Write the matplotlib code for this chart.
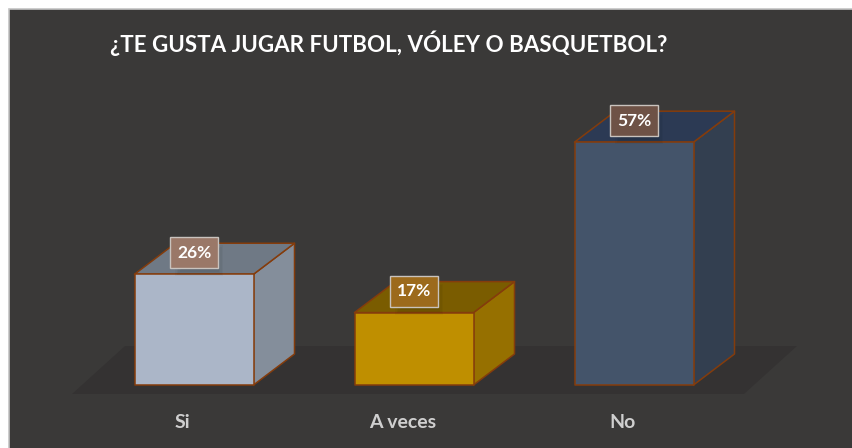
import matplotlib
matplotlib.use("Agg")
import matplotlib.pyplot as plt
from matplotlib.patches import Polygon, Rectangle

categories = ["Si", "A veces", "No"]
values = [26, 17, 57]
title = "¿TE GUSTA JUGAR FUTBOL, VÓLEY O BASQUETBOL?"
front_colors = ["#ABB6C8", "#BF8F00", "#44546A"]
top_colors = ["#6F7985", "#7A5C00", "#2C3A54"]
side_colors = ["#848E9B", "#967000", "#333F50"]
label_fills = ["#9A7868", "#9C6A1C", "#6E5246"]

W, H = 852, 448
PX_X = 220.0          # pixels per category step
PX_Y = 4.26           # pixels per percentage point
X0, Y0 = 194.0, 385.0 # pixel position of first category / zero line
BAR_W = 119 / PX_X
DX, DY = 41 / PX_X, 31 / PX_Y
EDGE = "#843C0C"

plt.rcParams["font.family"] = ["Lato", "DejaVu Sans"]
fig = plt.figure(figsize=(W / 100, H / 100), dpi=100, facecolor="white")
ax = fig.add_axes([0, 0, 1, 1])
ax.set_xlim(-X0 / PX_X, (W - X0) / PX_X)
ax.set_ylim(-(H - Y0) / PX_Y, Y0 / PX_Y)
ax.axis("off")

def px(x, y):
    return ((x - X0) / PX_X, (Y0 - y) / PX_Y)

# panel background and floor
x0, y0 = px(9, H + 4)
x1, y1 = px(W + 4, 9)
ax.add_patch(Rectangle((x0, y0), x1 - x0, y1 - y0, fc="#3A3938", ec="#C4C4C4", lw=1.2, zorder=0))
ax.add_patch(Polygon([px(72, 394), px(744, 394), px(797, 346), px(125, 346)],
                     fc="#343232", ec="none", zorder=1))

for i, (cat, v) in enumerate(zip(categories, values)):
    l, r = i - BAR_W / 2, i + BAR_W / 2
    kw = dict(ec=EDGE, lw=1.1, joinstyle="round", zorder=2)
    ax.add_patch(Polygon([(r, 0), (r + DX, DY), (r + DX, v + DY), (r, v)], fc=side_colors[i], **kw))
    ax.add_patch(Polygon([(l, v), (r, v), (r + DX, v + DY), (l + DX, v + DY)], fc=top_colors[i], **kw))
    ax.add_patch(Polygon([(l, 0), (r, 0), (r, v), (l, v)], fc=front_colors[i], **kw))

    # data label box, with a soft shadow offset down and to the right
    bw, bh = 48 / PX_X, 31 / PX_Y
    by = v + 6 / PX_Y
    sx, sy = i - bw / 2 + 5 / PX_X, by - 8 / PX_Y
    for g in range(7):
        ax.add_patch(Rectangle((sx + g * 1.5 / PX_X, sy + g * 1.5 / PX_Y),
                               bw - g * 3 / PX_X, bh - g * 3 / PX_Y,
                               fc="black", ec="none", alpha=0.03, zorder=3))
    ax.add_patch(Rectangle((i - bw / 2, by), bw, bh, fc=label_fills[i], ec="#C9C3BE",
                           lw=1.0, zorder=4))
    ax.text(i, by + bh / 2, f"{v}%", color="white", fontsize=12.5, fontweight="bold",
            ha="center", va="center", zorder=5)
    ax.annotate(cat, xy=(i, 0), xytext=(-8, -27), textcoords="offset points",
                color="#CFCFCF", fontsize=14, fontweight="bold", ha="center", va="center")

tx, ty = px(110, 43)
ax.text(tx, ty, title, color="white", fontsize=16.1, fontweight="bold", ha="left", va="center", zorder=5)

fig.savefig("out.png", dpi=100, facecolor="white")
